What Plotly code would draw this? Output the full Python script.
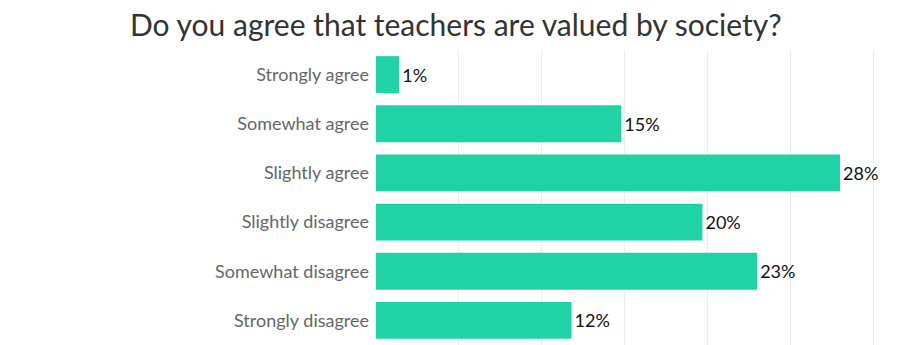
import plotly.graph_objects as go

categories = ["Strongly agree", "Somewhat agree", "Slightly agree",
              "Slightly disagree", "Somewhat disagree", "Strongly disagree"]
values = [1.4, 14.8, 28.0, 19.7, 23.0, 11.8]
labels = ["1%", "15%", "28%", "20%", "23%", "12%"]

fig = go.Figure(go.Bar(
    x=values, y=categories, orientation="h",
    marker=dict(color="#1fd3a6", line=dict(width=0)),
    text=labels, textposition="outside", cliponaxis=False,
    textfont=dict(family="Lato", size=18, color="#111"),
))

fig.update_layout(
    width=908, height=345,
    margin=dict(l=376, r=10, t=50, b=0),
    paper_bgcolor="white", plot_bgcolor="white",
    bargap=0.25,
    title=dict(text="Do you agree that teachers are valued by society?",
               x=0.502, xanchor="center", y=0.925, yanchor="middle",
               font=dict(family="Lato", size=30, color="#333")),
    font=dict(family="Lato"),
    showlegend=False,
)
fig.update_xaxes(range=[0, 31.5], dtick=5, showticklabels=False,
                 showgrid=True, gridcolor="#ededed", gridwidth=1,
                 zeroline=False, showline=False)
fig.update_yaxes(autorange="reversed", ticks="", ticklabelstandoff=6,
                 tickfont=dict(family="Lato", size=18, color="#666"),
                 showgrid=False, showline=False)

fig.write_html("out.html")
